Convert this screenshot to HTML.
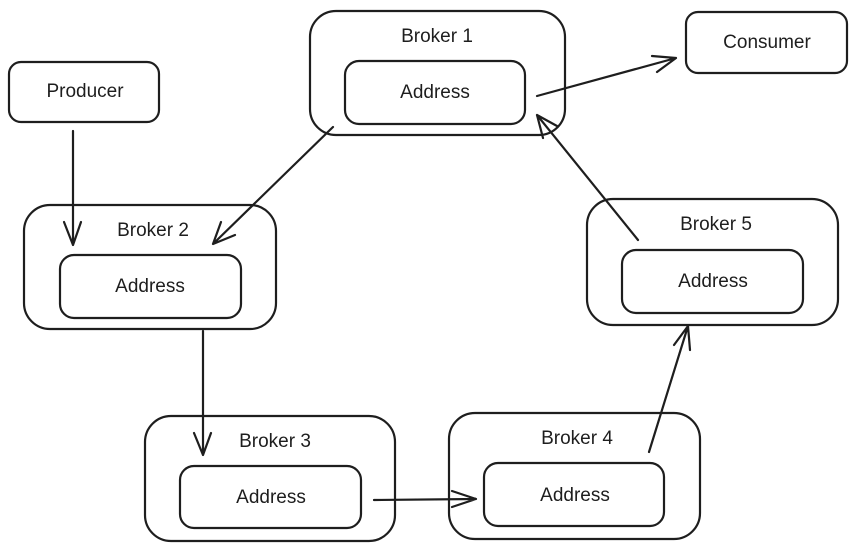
<!DOCTYPE html>
<html><head><meta charset="utf-8"><style>
html,body{margin:0;padding:0;background:#fff;}
svg{display:block;}
text{font-family:"Liberation Sans",sans-serif;font-size:19px;fill:#1e1e1e;text-anchor:middle;}
</style></head><body>
<svg width="857" height="551" viewBox="0 0 857 551" xmlns="http://www.w3.org/2000/svg">
<g fill="none" stroke="#1e1e1e" stroke-width="2.2" stroke-linecap="round" stroke-linejoin="round">
<!-- Broker 1 -->
<rect x="310" y="11" width="255" height="124" rx="26"/>
<rect x="345" y="61" width="180" height="63" rx="14"/>
<!-- Consumer -->
<rect x="686" y="12" width="161" height="61" rx="12"/>
<!-- Producer -->
<rect x="9" y="62" width="150" height="60" rx="12"/>
<!-- Broker 2 -->
<rect x="24" y="205" width="252" height="124" rx="26"/>
<rect x="60" y="255" width="181" height="63" rx="14"/>
<!-- Broker 5 -->
<rect x="587" y="199" width="251" height="126" rx="26"/>
<rect x="622" y="250" width="181" height="63" rx="14"/>
<!-- Broker 3 -->
<rect x="145" y="416" width="250" height="125" rx="26"/>
<rect x="180" y="466" width="181" height="62" rx="14"/>
<!-- Broker 4 -->
<rect x="449" y="413" width="251" height="126" rx="26"/>
<rect x="484" y="463" width="180" height="63" rx="14"/>
<!-- arrows -->
<path d="M73 131 L73 245 M64 222 L73 245 L81 222"/>
<path d="M333 127 L213 244 M221 222 L213 244 L235 235"/>
<path d="M203 331 L203 455 M194 433 L203 455 L211 433"/>
<path d="M374 500 L476 499 M452 491 L476 499 L452 507"/>
<path d="M649 452 L688 326 M674 345 L688 326 L690 350"/>
<path d="M638 240 L537 115 M543 138 L537 115 L557 126"/>
<path d="M537 96 L676 58 M652 56 L676 58 L657 72"/>
</g>
<text x="437" y="42">Broker 1</text>
<text x="435" y="98">Address</text>
<text x="767" y="48">Consumer</text>
<text x="85" y="97">Producer</text>
<text x="153" y="236">Broker 2</text>
<text x="150" y="292">Address</text>
<text x="716" y="230">Broker 5</text>
<text x="713" y="287">Address</text>
<text x="275" y="447">Broker 3</text>
<text x="271" y="503">Address</text>
<text x="577" y="444">Broker 4</text>
<text x="575" y="501">Address</text>
</svg>
</body></html>
